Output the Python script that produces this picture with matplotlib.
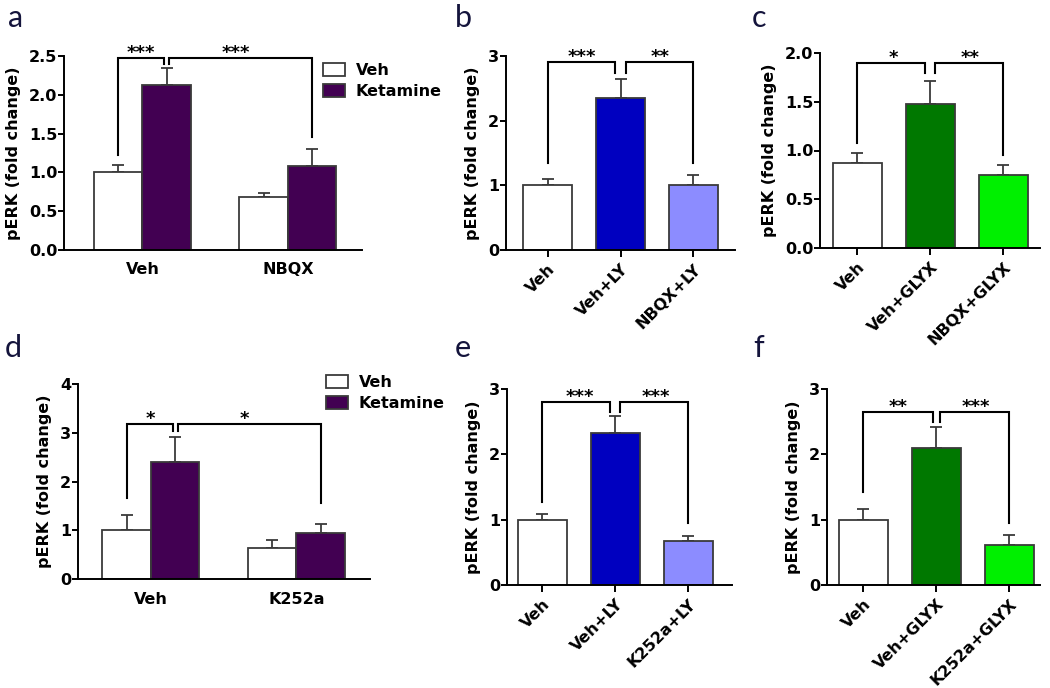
import matplotlib
matplotlib.use("Agg")
import matplotlib.pyplot as plt
import numpy as np
from matplotlib.patches import Patch

plt.rcParams['font.family'] = ['DejaVu Sans']
plt.rcParams['font.weight'] = 'bold'

# ---------------- data ----------------
a_groups = ['Veh', 'NBQX']
a_veh = [1.00, 0.68]
a_veh_err = [0.09, 0.06]
a_ket = [2.12, 1.08]
a_ket_err = [0.23, 0.22]

b_labels = ['Veh', 'Veh+LY', 'NBQX+LY']
b_vals = [1.00, 2.35, 1.01]
b_err = [0.10, 0.29, 0.15]

c_labels = ['Veh', 'Veh+GLYX', 'NBQX+GLYX']
c_vals = [0.87, 1.48, 0.75]
c_err = [0.10, 0.23, 0.10]

d_groups = ['Veh', 'K252a']
d_veh = [1.00, 0.63]
d_veh_err = [0.31, 0.16]
d_ket = [2.40, 0.94]
d_ket_err = [0.52, 0.18]

e_labels = ['Veh', 'Veh+LY', 'K252a+LY']
e_vals = [1.00, 2.32, 0.68]
e_err = [0.08, 0.26, 0.07]

f_labels = ['Veh', 'Veh+GLYX', 'K252a+GLYX']
f_vals = [1.00, 2.09, 0.61]
f_err = [0.16, 0.33, 0.15]

legend_labels = ['Veh', 'Ketamine']

# ---------------- style ----------------
W, H = 1050, 688
PURPLE = '#420052'
BLUE = '#0000c0'
LBLUE = '#8c8cff'
DGREEN = '#007800'
LGREEN = '#00f000'
EDGE = '#3a3a3a'
FS = 11.5

fig = plt.figure(figsize=(W / 100, H / 100), dpi=100)


def px_axes(left, right, top, bottom):
    return fig.add_axes([left / W, 1 - bottom / H, (right - left) / W, (bottom - top) / H])


def style(ax, ylim, yticks, fmt):
    ax.spines['top'].set_visible(False)
    ax.spines['right'].set_visible(False)
    for s in ('left', 'bottom'):
        ax.spines[s].set_linewidth(1.4)
        ax.spines[s].set_color('black')
    ax.set_ylim(*ylim)
    ax.set_yticks(yticks)
    ax.set_yticklabels([fmt.format(v) for v in yticks], fontsize=FS, fontweight='bold')
    ax.tick_params(axis='y', length=4, width=1.4, pad=0.8)
    ax.set_ylabel('pERK (fold change)', fontsize=FS, fontweight='bold', labelpad=6)


def bars(ax, x, vals, errs, colors, width):
    ax.bar(x, vals, width=width, color=colors, edgecolor=EDGE, linewidth=1.3, zorder=2)
    ax.errorbar(x, vals, yerr=[np.zeros(len(vals)), errs], fmt='none', ecolor=EDGE,
                elinewidth=1.3, capsize=4, capthick=1.3, zorder=1)


def bracket(ax, x1, y1, x2, y2, ytop, stars, xs):
    ax.plot([x1, x1, x2, x2], [y1, ytop, ytop, y2], color='black', lw=1.5,
            clip_on=False, solid_joinstyle='miter', zorder=3)
    ax.text(xs, ytop, stars, ha='center', va='baseline', fontsize=13,
            fontweight='bold', clip_on=False)


def grouped(ax, groups, veh, veh_err, ket, ket_err, xlim):
    x = np.arange(len(groups))
    w = 1 / 3
    bars(ax, x - w / 2, veh, veh_err, ['white'] * len(groups), w)
    bars(ax, x + w / 2, ket, ket_err, [PURPLE] * len(groups), w)
    ax.set_xlim(*xlim)
    ax.set_xticks(x)
    ax.set_xticklabels(groups, fontsize=FS, fontweight='bold')
    ax.tick_params(axis='x', length=0, pad=9)
    return x - w / 2, x + w / 2


def single(ax, labels, vals, errs, colors, xlim):
    x = np.arange(len(labels))
    bars(ax, x, vals, errs, colors, 0.67)
    ax.set_xlim(*xlim)
    ax.set_xticks(x)
    ax.set_xticklabels(labels, rotation=45, ha='right', rotation_mode='anchor',
                       fontsize=FS, fontweight='bold')
    ax.tick_params(axis='x', length=5, width=1.4, pad=3)


def legend(ax, xpx, ypx):
    handles = [Patch(facecolor='white', edgecolor=EDGE, linewidth=1.3),
               Patch(facecolor=PURPLE, edgecolor=EDGE, linewidth=1.3)]
    ax.legend(handles, legend_labels, loc='upper left',
              bbox_to_anchor=(xpx / W, 1 - ypx / H), bbox_transform=fig.transFigure,
              frameon=False, prop={'weight': 'bold', 'size': FS},
              handlelength=1.35, handleheight=0.8, handletextpad=0.7,
              labelspacing=0.38, borderpad=0, borderaxespad=0)


# ---- panel a ----
ax = px_axes(64, 362, 56, 250)
style(ax, (0, 2.5), [0, 0.5, 1.0, 1.5, 2.0, 2.5], '{:.1f}')
xv, xk = grouped(ax, a_groups, a_veh, a_veh_err, a_ket, a_ket_err, (-0.54, 1.51))
bracket(ax, xv[0], 1.22, 0.148, 2.40, 2.47, '***', -0.01)
bracket(ax, 0.182, 2.40, xk[1], 1.46, 2.47, '***', 0.64)
legend(ax, 323, 63)

# ---- panel b ----
ax = px_axes(506, 735, 56, 250)
style(ax, (0, 3), [0, 1, 2, 3], '{:d}')
single(ax, b_labels, b_vals, b_err, ['white', BLUE, LBLUE], (-0.57, 2.57))
bracket(ax, 0, 1.35, 0.925, 2.74, 2.90, '***', 0.47)
bracket(ax, 1.075, 2.74, 2, 1.35, 2.90, '**', 1.54)

# ---- panel c ----
ax = px_axes(820, 1040, 53, 248)
style(ax, (0, 2), [0, 0.5, 1.0, 1.5, 2.0], '{:.1f}')
single(ax, c_labels, c_vals, c_err, ['white', DGREEN, LGREEN], (-0.51, 2.50))
bracket(ax, 0, 1.08, 0.92, 1.79, 1.90, '*', 0.49)
bracket(ax, 1.06, 1.79, 2, 0.95, 1.90, '**', 1.55)

# ---- panel d ----
ax = px_axes(78, 370, 384, 579)
style(ax, (0, 4), [0, 1, 2, 3, 4], '{:d}')
xv, xk = grouped(ax, d_groups, d_veh, d_veh_err, d_ket, d_ket_err, (-0.50, 1.505))
bracket(ax, xv[0], 1.66, 0.151, 3.04, 3.18, '*', 0.0)
bracket(ax, 0.186, 3.04, xk[1], 1.56, 3.18, '*', 0.64)
legend(ax, 326, 375)

# ---- panel e ----
ax = px_axes(507, 732, 389, 585)
style(ax, (0, 3), [0, 1, 2, 3], '{:d}')
single(ax, e_labels, e_vals, e_err, ['white', BLUE, LBLUE], (-0.486, 2.60))
bracket(ax, 0, 1.27, 0.925, 2.65, 2.80, '***', 0.51)
bracket(ax, 1.06, 2.65, 2, 0.95, 2.80, '***', 1.56)

# ---- panel f ----
ax = px_axes(827, 1040, 389, 585)
style(ax, (0, 3), [0, 1, 2, 3], '{:d}')
single(ax, f_labels, f_vals, f_err, ['white', DGREEN, LGREEN], (-0.50, 2.42))
bracket(ax, 0, 1.42, 0.95, 2.49, 2.65, '**', 0.47)
bracket(ax, 1.05, 2.49, 2, 0.95, 2.65, '***', 1.54)

# ---- panel letters ----
for letter, xp, yp in [('a', 8, 27), ('b', 455, 27), ('c', 752, 27),
                       ('d', 5, 357), ('e', 455, 357), ('f', 753, 357)]:
    fig.text(xp / W, 1 - yp / H, letter, fontsize=22, family=['Lato', 'DejaVu Sans'],
             fontweight='normal', color='#14143c', ha='left', va='baseline')

fig.savefig('out.png', dpi=100)
